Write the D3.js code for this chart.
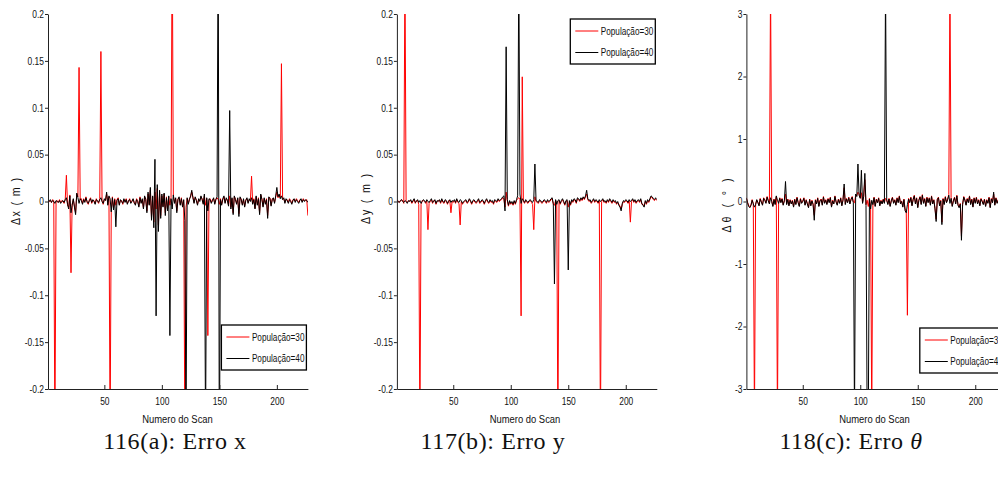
<!DOCTYPE html>
<html>
<head>
<meta charset="utf-8">
<script src="https://cdn.jsdelivr.net/npm/d3@7"></script>
<style>
  body { margin: 0; background: #fff; }
  svg { display: block; }
</style>
</head>
<body>
<svg id="chart" width="998" height="486"></svg>
<script>
// ---- data ----
const xTicks = [50, 100, 150, 200];
const yTicksM = [-0.2, -0.15, -0.1, -0.05, 0, 0.05, 0.1, 0.15, 0.2];
const yTicksDeg = [-3, -2, -1, 0, 1, 2, 3];
const legendLabels = ["População=30", "População=40"];
const captions = ["116(a): Erro x", "117(b): Erro y", "118(c): Erro "];

// Erro x (m)
const erroXPop30 = [
  0.002, 0.000, 0.001, -0.001, 0.002, 0.001, -0.250, 0.000, 0.001, -0.001,
  0.002, -0.001, 0.001, 0.000, -0.002, 0.003, 0.028, -0.004, -0.006, 0.007,
  -0.076, -0.003, 0.002, -0.005, -0.012, 0.008, 0.005, 0.143, 0.002, 0.003,
  -0.002, 0.003, 0.000, 0.005, -0.001, -0.003, 0.002, 0.004, -0.002, 0.001,
  0.001, -0.002, 0.003, 0.000, -0.002, 0.003, 0.160, 0.001, -0.003, 0.002,
  0.002, 0.008, -0.003, 0.005, -0.250, -0.009, 0.005, -0.007, 0.003, -0.004,
  0.002, 0.004, -0.003, 0.001, 0.001, -0.003, 0.002, 0.000, 0.003, -0.002,
  0.000, 0.003, -0.001, 0.001, 0.002, -0.002, -0.003, 0.003, 0.001, -0.005,
  0.005, -0.001, 0.002, -0.007, 0.005, 0.003, -0.010, 0.008, -0.003, 0.012,
  -0.017, 0.005, -0.022, 0.010, -0.008, 0.014, -0.025, 0.010, -0.015, 0.006,
  -0.005, 0.008, -0.012, 0.005, -0.008, 0.005, -0.004, 0.004, 0.300, 0.006,
  -0.001, 0.003, -0.010, 0.003, 0.004, -0.003, 0.004, -0.005, 0.001, -0.250,
  -0.006, 0.003, -0.002, 0.003, 0.005, 0.010, 0.005, -0.001, 0.004, 0.002,
  -0.003, 0.002, 0.001, 0.005, 0.003, -0.002, 0.006, -0.004, 0.003, -0.143,
  0.002, 0.003, -0.001, 0.002, 0.003, -0.002, 0.003, 0.004, 0.002, -0.003,
  0.003, -0.003, 0.002, 0.005, -0.001, 0.003, 0.002, -0.004, 0.006, -0.006,
  0.003, -0.012, 0.005, 0.003, -0.002, 0.003, -0.013, 0.004, 0.003, -0.003,
  0.002, -0.005, 0.002, 0.003, -0.001, 0.002, 0.001, 0.027, -0.002, 0.003,
  -0.007, 0.005, -0.003, 0.004, -0.012, 0.007, 0.003, -0.005, 0.003, -0.002,
  0.003, -0.015, 0.004, 0.004, -0.004, 0.003, 0.003, -0.001, 0.005, 0.010,
  0.004, 0.006, 0.004, 0.147, 0.003, 0.003, -0.001, 0.002, 0.002, -0.001,
  0.003, 0.001, -0.002, 0.002, 0.002, 0.000, 0.003, 0.001, -0.001, 0.002,
  0.002, 0.000, 0.003, 0.001, 0.001, 0.002, -0.015
];
const erroXPop40 = [
  0.001, 0.000, 0.002, -0.001, 0.001, 0.000, -0.002, 0.001, 0.000, -0.001,
  0.001, -0.002, 0.000, 0.001, -0.001, 0.002, 0.004, -0.003, -0.008, 0.006,
  -0.012, -0.004, 0.003, -0.006, -0.014, 0.009, 0.004, -0.002, 0.003, 0.001,
  -0.003, 0.002, -0.001, 0.004, 0.000, -0.002, 0.001, 0.003, -0.001, 0.002,
  0.000, -0.003, 0.002, 0.001, -0.001, 0.002, 0.004, 0.000, -0.002, 0.003,
  0.001, 0.010, -0.004, 0.006, 0.003, -0.011, 0.004, -0.009, 0.002, -0.027,
  0.001, 0.003, -0.004, 0.002, 0.000, -0.002, 0.003, -0.001, 0.002, -0.003,
  0.001, 0.002, -0.002, 0.000, 0.003, -0.001, -0.004, 0.002, 0.000, -0.006,
  0.004, -0.002, 0.003, -0.008, 0.006, 0.002, -0.012, 0.010, -0.004, 0.015,
  -0.020, 0.006, -0.028, 0.045, -0.122, 0.018, -0.032, 0.012, -0.018, 0.008,
  -0.006, 0.009, -0.015, 0.004, -0.010, 0.006, -0.143, 0.003, -0.008, 0.007,
  -0.002, 0.004, -0.012, 0.002, 0.005, -0.004, 0.003, -0.006, 0.002, -0.020,
  -0.250, 0.004, -0.003, 0.002, 0.006, 0.012, 0.004, -0.002, 0.005, 0.001,
  -0.004, 0.003, 0.000, 0.006, 0.002, -0.003, 0.008, -0.250, 0.004, -0.010,
  0.003, 0.002, -0.002, 0.001, 0.004, -0.003, 0.002, 0.005, 0.300, -0.300,
  0.002, -0.004, 0.003, 0.006, -0.002, 0.004, 0.001, -0.005, 0.097, -0.008,
  0.004, -0.014, 0.006, 0.002, -0.003, 0.004, -0.016, 0.005, 0.002, -0.004,
  0.003, -0.006, 0.001, 0.004, -0.002, 0.003, 0.000, 0.004, -0.003, 0.002,
  -0.008, 0.006, -0.004, 0.003, -0.014, 0.008, 0.002, -0.006, 0.004, -0.003,
  0.002, -0.018, 0.005, 0.003, -0.005, 0.002, 0.004, -0.002, 0.006, 0.015,
  0.005, 0.008, 0.003, 0.006, 0.002, 0.004, -0.002, 0.003, 0.001, -0.002,
  0.002, 0.000, -0.003, 0.001, 0.003, -0.001, 0.002, 0.000, -0.002, 0.001,
  0.003, -0.001, 0.002, 0.000, 0.002, 0.001, -0.001
];

// Erro y (m)
const erroYPop30 = [
  0.000, 0.001, -0.001, 0.000, 0.002, 0.001, -0.002, 0.250, 0.001, -0.001,
  0.000, 0.001, 0.001, -0.002, 0.000, 0.002, -0.002, 0.001, 0.001, -0.003,
  -0.250, -0.003, 0.001, 0.001, 0.000, -0.002, 0.001, -0.030, -0.002, 0.000,
  0.002, -0.002, 0.001, 0.001, -0.003, 0.000, 0.001, 0.001, -0.002, 0.002,
  -0.001, -0.002, 0.001, 0.000, -0.003, 0.001, 0.001, -0.012, 0.000, -0.001,
  0.001, -0.002, 0.002, -0.001, -0.002, -0.025, 0.000, -0.003, -0.001, 0.000,
  0.001, -0.002, -0.001, 0.002, 0.000, -0.003, 0.000, 0.001, -0.001, -0.002,
  0.000, 0.002, -0.002, -0.001, 0.001, 0.000, -0.003, 0.000, 0.002, -0.001,
  -0.002, 0.001, -0.001, 0.000, -0.003, 0.001, 0.000, -0.001, 0.002, 0.000,
  0.001, 0.002, 0.004, 0.003, -0.006, 0.010, 0.001, -0.005, 0.000, -0.003,
  -0.001, -0.004, 0.000, -0.003, 0.001, 0.003, 0.004, 0.002, -0.122, 0.133,
  0.000, -0.002, 0.001, -0.001, -0.002, 0.000, 0.001, -0.001, -0.003, -0.030,
  0.005, 0.000, -0.001, -0.002, 0.001, 0.000, -0.002, -0.001, 0.001, 0.000,
  -0.002, 0.001, -0.001, 0.000, 0.002, 0.003, -0.003, -0.004, 0.001, -0.002,
  -0.250, 0.001, -0.003, 0.000, 0.002, -0.001, -0.004, 0.000, 0.001, -0.006,
  0.000, -0.004, 0.001, -0.001, 0.002, 0.001, -0.002, 0.003, 0.002, 0.000,
  0.003, 0.001, 0.004, 0.002, 0.005, 0.008, 0.002, 0.000, 0.001, -0.002,
  0.000, 0.002, -0.001, 0.001, 0.000, -0.002, 0.001, -0.250, 0.000, 0.002,
  -0.001, 0.000, -0.002, 0.001, -0.001, 0.002, 0.000, -0.002, 0.001, -0.001,
  0.000, -0.003, -0.001, -0.003, -0.005, -0.008, -0.003, 0.000, -0.001, 0.001,
  0.000, -0.002, 0.001, -0.022, 0.000, 0.002, -0.001, 0.001, -0.002, 0.000,
  0.001, -0.001, 0.002, -0.003, -0.003, -0.005, 0.000, -0.003, 0.001, -0.001,
  0.002, 0.005, 0.004, 0.002, 0.001, 0.003, 0.001
];
const erroYPop40 = [
  0.001, 0.000, -0.001, 0.001, 0.002, 0.000, -0.001, 0.001, 0.000, -0.002,
  0.001, 0.000, 0.002, -0.001, 0.001, 0.003, -0.001, 0.000, 0.002, -0.001,
  0.001, -0.002, 0.000, 0.002, 0.001, -0.001, 0.002, 0.000, -0.001, 0.001,
  0.003, -0.001, 0.000, 0.002, -0.002, 0.001, 0.000, 0.002, -0.001, 0.003,
  0.000, -0.001, 0.002, 0.001, -0.002, 0.000, 0.002, -0.001, 0.001, 0.000,
  0.002, -0.001, 0.003, 0.000, -0.001, 0.002, 0.001, -0.002, 0.000, 0.001,
  0.002, -0.001, 0.000, 0.003, 0.001, -0.002, 0.001, 0.002, 0.000, -0.001,
  0.001, 0.003, -0.001, 0.000, 0.002, 0.001, -0.002, 0.001, 0.003, 0.000,
  -0.001, 0.002, 0.000, 0.001, -0.002, 0.002, 0.001, 0.000, 0.003, 0.001,
  0.002, 0.003, 0.005, 0.006, -0.010, 0.165, 0.002, -0.004, 0.001, -0.002,
  0.000, -0.003, 0.001, -0.002, 0.002, 0.006, 0.250, 0.008, -0.002, 0.003,
  0.001, -0.001, 0.002, 0.000, -0.001, 0.001, 0.002, 0.000, -0.001, 0.002,
  0.040, 0.001, 0.000, -0.001, 0.002, 0.001, -0.001, 0.000, 0.002, 0.001,
  -0.001, 0.002, 0.000, 0.001, 0.003, 0.004, -0.002, -0.088, 0.002, -0.003,
  0.001, 0.002, -0.002, 0.001, 0.003, 0.000, -0.003, 0.001, 0.002, -0.073,
  0.001, -0.003, 0.002, 0.000, 0.003, 0.002, -0.001, 0.004, 0.003, 0.001,
  0.004, 0.002, 0.005, 0.003, 0.006, 0.012, 0.003, 0.001, 0.002, -0.001,
  0.001, 0.003, 0.000, 0.002, 0.001, -0.001, 0.002, 0.000, 0.001, 0.003,
  0.000, 0.001, -0.001, 0.002, 0.000, 0.003, 0.001, -0.001, 0.002, 0.000,
  0.001, -0.002, 0.000, -0.004, -0.006, -0.010, -0.002, 0.001, 0.000, 0.002,
  0.001, -0.001, 0.002, 0.000, 0.001, 0.003, 0.000, 0.002, -0.001, 0.001,
  0.002, 0.000, 0.003, -0.002, -0.004, -0.006, 0.001, -0.002, 0.002, 0.000,
  0.003, 0.006, 0.005, 0.003, 0.002, 0.004, 0.002
];

// Erro theta (graus)
const erroThetaPop30 = [
  0.06, -0.01, -0.07, -0.08, -0.05, 0.03, -0.03, -3.5, -0.04, 0.02,
  -0.01, -0.06, 0.05, 0.00, -0.05, 0.06, 0.03, -0.02, 0.08, 0.02,
  -0.03, 3.5, 0.01, -0.07, 0.04, -0.04, 0.08, -3.5, -0.02, 0.06,
  -0.01, 0.05, -0.05, 0.02, 0.12, -0.04, 0.04, -0.06, 0.03, -0.03,
  0.02, -0.08, 0.04, -0.04, 0.07, -0.01, -0.07, 0.05, -0.02, 0.01,
  0.06, -0.05, 0.03, -0.03, -0.09, 0.04, -0.06, 0.02, -0.04, -0.22,
  0.03, -0.03, 0.06, -0.07, 0.02, 0.04, -0.05, 0.08, -0.02, 0.03,
  -0.04, 0.05, -0.01, 0.07, -0.08, 0.02, -0.03, 0.09, 0.00, -0.05,
  0.04, -0.02, 0.06, -0.06, 0.03, 0.22, -0.04, 0.05, -0.01, 0.07,
  -0.03, 0.04, 0.08, -0.01, -0.02, 0.10, 0.09, 0.15, 0.12, 0.06,
  0.14, -0.02, 0.09, 0.35, -0.05, 0.02, -0.08, 0.05, -0.10, -3.5,
  -0.04, 0.07, -0.07, 0.04, -0.01, 0.06, -0.06, 0.02, -0.03, 0.04,
  -0.02, 0.05, 0.03, -0.04, 0.05, -0.07, 0.02, 0.07, -0.02, 0.03,
  -0.05, 0.06, -0.01, 0.09, -0.03, 0.01, -0.08, 0.04, -0.12, -0.16,
  -1.82, 0.05, -0.01, 0.07, -0.06, 0.04, 0.10, -0.03, 0.06, -0.09,
  0.03, 0.08, -0.04, 0.11, -0.02, 0.05, -0.07, 0.07, -0.01, 0.06,
  -0.05, 0.09, -0.03, 0.03, -0.11, -0.28, 0.04, 0.07, -0.06, 0.02,
  -0.33, 0.05, -0.04, 0.08, -0.01, 0.04, 0.11, 3.5, 0.06, -0.07,
  0.02, 0.07, -0.03, 0.10, -0.05, -0.09, -0.03, -0.55, -0.04, 0.08,
  0.03, -0.05, 0.05, -0.01, 0.09, -0.04, 0.04, -0.08, 0.06, -0.02,
  0.07, -0.03, 0.03, -0.06, 0.05, 0.01, -0.04, 0.04, -0.07, 0.03,
  -0.02, 0.07, -0.09, 0.05, -0.01, 0.12, -0.05, 0.06, -0.02, 0.03,
  -0.04, 0.05, -0.01, 0.07, -0.03, 0.04, 0.00
];
const erroThetaPop40 = [
  0.05, -0.02, -0.08, -0.10, -0.06, 0.02, -0.04, -0.09, -0.05, 0.03,
  -0.02, -0.07, 0.04, -0.01, -0.06, 0.05, 0.02, -0.03, 0.07, 0.01,
  -0.04, 0.06, 0.00, -0.08, 0.03, -0.05, 0.09, 0.02, -0.03, 0.05,
  -0.02, 0.04, -0.06, 0.01, 0.32, -0.05, 0.03, -0.07, 0.02, -0.04,
  0.01, -0.09, 0.03, -0.05, 0.06, -0.02, -0.08, 0.04, -0.03, 0.00,
  0.05, -0.06, 0.02, -0.04, -0.10, 0.03, -0.07, 0.01, -0.05, -0.30,
  0.02, -0.04, 0.05, -0.08, 0.01, 0.03, -0.06, 0.07, -0.03, 0.02,
  -0.05, 0.04, -0.02, 0.06, -0.09, 0.01, -0.04, 0.08, -0.01, -0.06,
  0.03, -0.03, 0.05, -0.07, 0.02, 0.28, -0.05, 0.04, -0.02, 0.06,
  -0.04, 0.03, 0.07, -0.02, -3.5, 0.12, 0.08, 0.60, 0.10, 0.05,
  0.50, -0.03, 0.08, 0.45, -0.06, -3.5, -3.5, 0.04, -0.12, 0.02,
  -0.05, 0.06, -0.08, 0.03, -0.02, 0.05, -0.07, 0.01, -0.04, 0.03,
  -0.03, 3.5, 0.02, -0.05, 0.04, -0.08, 0.01, 0.06, -0.03, 0.02,
  -0.06, 0.05, -0.02, 0.08, -0.04, 0.00, -0.09, 0.03, -0.15, -0.18,
  -0.05, 0.04, -0.02, 0.06, -0.07, 0.03, 0.09, -0.04, 0.05, -0.10,
  0.02, 0.07, -0.05, 0.10, -0.03, 0.04, -0.08, 0.06, -0.02, 0.05,
  -0.06, 0.08, -0.04, 0.02, -0.12, -0.32, 0.03, 0.06, -0.07, 0.01,
  -0.37, 0.04, -0.05, 0.07, -0.02, 0.03, 0.10, -0.03, 0.05, -0.08,
  0.01, 0.06, -0.04, 0.09, -0.06, -0.10, -0.04, -0.62, -0.05, 0.07,
  0.02, -0.06, 0.04, -0.02, 0.08, -0.05, 0.03, -0.09, 0.05, -0.03,
  0.06, -0.04, 0.02, -0.07, 0.04, 0.00, -0.05, 0.03, -0.08, 0.02,
  -0.03, 0.06, -0.10, 0.04, -0.02, 0.15, -0.06, 0.05, -0.03, 0.02,
  -0.05, 0.04, -0.02, 0.06, -0.04, 0.03, -0.01
];

// ---- layout ----
const sansFont = "'Liberation Sans', Arial, sans-serif";
const serifFont = "'Liberation Serif', 'DejaVu Serif', serif";
const squeeze = 0.82; // narrow look of the MATLAB figure text
const plotTop = 14, plotBottom = 389, plotWidth = 259.9;

const panels = [
  { left: 48, pop30: erroXPop30, pop40: erroXPop40, yDomain: [-0.2, 0.2], yTicks: yTicksM,
    yLabel: "\u0394x ( m )", yLabelPos: [15, 201.5, 47], xLabelX: 177.5,
    caption: captions[0], captionX: 175, legendTop: 325 },
  { left: 396.9, pop30: erroYPop30, pop40: erroYPop40, yDomain: [-0.2, 0.2], yTicks: yTicksM,
    yLabel: "\u0394y ( m )", yLabelPos: [365, 199, 50], xLabelX: 525,
    caption: captions[1], captionX: 493, legendTop: 19 },
  { left: 746.4, pop30: erroThetaPop30, pop40: erroThetaPop40, yDomain: [-3, 3], yTicks: yTicksDeg,
    yLabel: "\u0394\u03b8 ( \u00b0 )", yLabelPos: [726, 205.5, 54], xLabelX: 874.5,
    caption: captions[2], captionX: 851, legendTop: 328, theta: true }
];

const svg = d3.select("#chart");

// narrow sans text placed at (x, y)
function narrowText(parent, x, y, str, size, extra) {
  return parent.append("text")
    .attr("transform", `translate(${x},${y})${extra || ""} scale(${squeeze},1)`)
    .attr("font-family", sansFont).attr("font-size", size).attr("fill", "#111")
    .text(str);
}

panels.forEach((p, k) => {
  const scans = d3.range(1, p.pop30.length + 1);
  const x = d3.scaleLinear().domain([1, scans.length]).range([p.left, p.left + plotWidth]);
  const y = d3.scaleLinear().domain(p.yDomain).range([plotBottom, plotTop]);
  const right = p.left + plotWidth;

  const clipId = "clip" + k;
  svg.append("clipPath").attr("id", clipId)
    .append("rect")
    .attr("x", p.left).attr("y", plotTop)
    .attr("width", plotWidth).attr("height", plotBottom - plotTop);

  const line = d3.line()
    .x((d, i) => x(scans[i]))
    .y(d => y(d));

  const g = svg.append("g");
  const plot = g.append("g").attr("clip-path", `url(#${clipId})`);
  plot.append("path").datum(p.pop30)
    .attr("d", line).attr("fill", "none")
    .attr("stroke", "#ff0000").attr("stroke-width", 1);
  plot.append("path").datum(p.pop40)
    .attr("d", line).attr("fill", "none")
    .attr("stroke", "#000").attr("stroke-width", 1);

  // axes (MATLAB style, box off)
  const xAxis = d3.axisBottom(x).tickValues(xTicks).tickSizeInner(-4).tickSizeOuter(0).tickPadding(9);
  const gx = g.append("g").attr("transform", `translate(0,${plotBottom})`).call(xAxis);
  const yAxis = d3.axisLeft(y).tickValues(p.yTicks).tickSizeInner(3).tickSizeOuter(0).tickPadding(1)
    .tickFormat(d => String(d));
  const gy = g.append("g").attr("transform", `translate(${p.left},0)`).call(yAxis);
  [gx, gy].forEach(a => {
    a.select(".domain").attr("stroke", "#222").attr("stroke-width", 1);
    a.selectAll(".tick line").attr("stroke", "#222");
    a.selectAll(".tick text")
      .attr("font-family", sansFont).attr("font-size", 10.3).attr("fill", "#111")
      .attr("x", function () { return (+d3.select(this).attr("x") || 0) / squeeze; })
      .attr("transform", `scale(${squeeze},1)`);
  });

  // x label
  narrowText(g, p.xLabelX, 423, "Numero do Scan", 11.5).attr("text-anchor", "middle");

  // y label
  const [lx, ly, len] = p.yLabelPos;
  narrowText(g, lx, ly, p.yLabel, 13, " rotate(-90)")
    .attr("text-anchor", "middle").attr("dy", "0.35em")
    .attr("textLength", len / squeeze).attr("lengthAdjust", "spacing");

  // legend
  const lw = 85, lh = 45;
  const lg = g.append("g").attr("transform", `translate(${right - 1.5 - lw},${p.legendTop})`);
  lg.append("rect").attr("width", lw).attr("height", lh)
    .attr("fill", "#fff").attr("stroke", "#000").attr("stroke-width", 1.3);
  [["#ff0000", 12], ["#000", 33.5]].forEach(([c, yy], i) => {
    lg.append("line").attr("x1", 5).attr("x2", 28).attr("y1", yy).attr("y2", yy)
      .attr("stroke", c).attr("stroke-width", 1);
    narrowText(lg, 30.5, yy, legendLabels[i], 10).attr("dy", "0.35em");
  });

  // caption
  const cap = g.append("text")
    .attr("x", p.captionX).attr("y", 449)
    .attr("text-anchor", "middle")
    .attr("font-family", serifFont).attr("font-size", 24).attr("fill", "#111")
    .attr("letter-spacing", 0.6)
    .text(p.caption);
  if (p.theta) cap.append("tspan").attr("font-style", "italic").text("\u03b8");
});
</script>
</body>
</html>
